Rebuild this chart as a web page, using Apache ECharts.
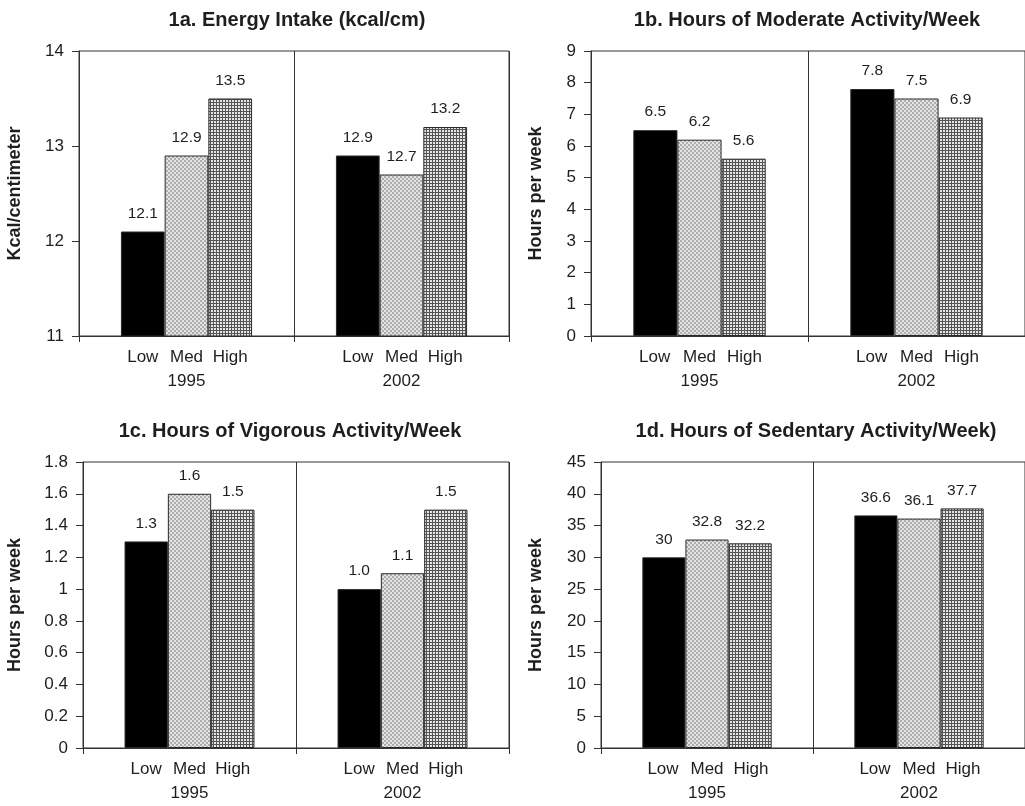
<!DOCTYPE html>
<html>
<head>
<meta charset="utf-8">
<script src="https://cdn.jsdelivr.net/npm/echarts@6/dist/echarts.min.js"></script>
<style>
html,body{margin:0;padding:0;background:#fff;}
#c{width:1025px;height:806px;}
</style>
</head>
<body>
<div id="c"></div>
<script>
// ---- data ----
const years = ['1995', '2002'];
const levels = ['Low', 'Med', 'High'];

const energyLow = [12.1, 12.9];
const energyMed = [12.9, 12.7];
const energyHigh = [13.5, 13.2];

const moderateLow = [6.5, 7.8];
const moderateMed = [6.2, 7.5];
const moderateHigh = [5.6, 6.9];

const vigorousLow = [1.3, 1.0];
const vigorousMed = [1.6, 1.1];
const vigorousHigh = [1.5, 1.5];

const sedentaryLow = [30, 36.6];
const sedentaryMed = [32.8, 36.1];
const sedentaryHigh = [32.2, 37.7];

const titles = [
  '1a. Energy Intake (kcal/cm)',
  '1b. Hours of Moderate Activity/Week',
  '1c. Hours of Vigorous Activity/Week',
  '1d. Hours of Sedentary Activity/Week)'
];
const yNames = ['Kcal/centimeter', 'Hours per week', 'Hours per week', 'Hours per week'];
const yMin = [11, 0, 0, 0];
const yMax = [14, 9, 1.8, 45];
const yStep = [1, 1, 0.2, 5];
const labelDecimals = [1, 1, 1, null];

// ---- styles / layout ----
const FONT = "'Liberation Sans', Arial, Helvetica, sans-serif";
const INK = '#1e1e1e';
const LINE = '#333';
const CAT_GAP = 0.39;

const grids = [
  {left: 79, top: 51, width: 430, height: 285, nameGap: 55, titleX: 297, titleY: 20},
  {left: 591, top: 51, width: 442, height: 285, nameGap: 46, titleX: 807, titleY: 20},
  {left: 83, top: 462, width: 426, height: 286, nameGap: 59, titleX: 290, titleY: 431},
  {left: 601, top: 462, width: 433, height: 286, nameGap: 56, titleX: 816, titleY: 431}
];

function makePattern(kind) {
  const cv = document.createElement('canvas');
  const ctx = cv.getContext('2d');
  if (kind === 'checker') {
    cv.width = 4; cv.height = 4;
    ctx.fillStyle = '#e4e4e4'; ctx.fillRect(0, 0, 4, 4);
    ctx.fillStyle = '#adadad';
    ctx.fillRect(0, 0, 2, 2); ctx.fillRect(2, 2, 2, 2);
  } else {
    cv.width = 3; cv.height = 3;
    ctx.fillStyle = '#e6e6e6'; ctx.fillRect(0, 0, 3, 3);
    ctx.fillStyle = '#555';
    ctx.fillRect(0, 0, 3, 1); ctx.fillRect(0, 0, 1, 3);
  }
  return {image: cv, repeat: 'repeat'};
}
const fills = ['#000', makePattern('checker'), makePattern('grid')];

const dataSets = [
  [energyLow, energyMed, energyHigh],
  [moderateLow, moderateMed, moderateHigh],
  [vigorousLow, vigorousMed, vigorousHigh],
  [sedentaryLow, sedentaryMed, sedentaryHigh]
];

const option = {
  backgroundColor: '#fff',
  animation: false,
  grid: [], xAxis: [], yAxis: [], series: [], graphic: []
};

grids.forEach((g, i) => {
  const bw = g.width / years.length * (1 - CAT_GAP) / levels.length;
  option.grid.push({
    left: g.left, top: g.top, width: g.width, height: g.height,
    show: true, borderColor: LINE, borderWidth: 1, containLabel: false
  });
  option.xAxis.push({
    type: 'category', gridIndex: i, data: years,
    axisLine: {show: true, lineStyle: {color: LINE, width: 1}},
    axisTick: {show: true, length: 6, lineStyle: {color: LINE}},
    splitLine: {show: true, lineStyle: {color: LINE, width: 1}},
    axisLabel: {
      interval: 0, margin: 10, color: INK, fontFamily: FONT, fontSize: 17,
      lineHeight: 23.5,
      formatter: function (v) {
        return levels.map(l => '{s|' + l + '}').join('') + '\n{y|' + v + '}';
      },
      rich: {
        s: {width: bw, align: 'center', fontSize: 17, fontFamily: FONT, color: INK, lineHeight: 23.5},
        y: {fontSize: 17, fontFamily: FONT, color: INK, lineHeight: 23.5}
      }
    }
  });
  option.yAxis.push({
    type: 'value', gridIndex: i,
    min: yMin[i], max: yMax[i], interval: yStep[i],
    name: yNames[i], nameLocation: 'middle', nameGap: g.nameGap, nameRotate: 90,
    nameTextStyle: {fontFamily: FONT, fontWeight: 'bold', fontSize: 18, color: INK},
    axisLine: {show: true, lineStyle: {color: LINE, width: 1}},
    axisTick: {show: true, inside: false, length: 7, lineStyle: {color: LINE}},
    splitLine: {show: false},
    axisLabel: {margin: 15, color: INK, fontFamily: FONT, fontSize: 17}
  });
  levels.forEach((lv, k) => {
    const dec = labelDecimals[i];
    option.series.push({
      type: 'bar', name: lv, xAxisIndex: i, yAxisIndex: i,
      data: dataSets[i][k],
      barGap: '0%', barCategoryGap: (CAT_GAP * 100) + '%',
      itemStyle: {color: fills[k], borderColor: '#2a2a2a', borderWidth: 1},
      label: {
        show: true, position: 'top', distance: 10,
        fontFamily: FONT, fontSize: 15.5, color: INK,
        formatter: p => dec == null ? String(p.value) : Number(p.value).toFixed(dec)
      },
      emphasis: {disabled: true}
    });
  });
  option.graphic.push({
    type: 'text', x: g.titleX, y: g.titleY,
    style: {
      text: titles[i], font: 'bold 20px ' + FONT, fill: INK,
      textAlign: 'center', textVerticalAlign: 'middle', align: 'center', verticalAlign: 'middle'
    }
  });
});

const chart = echarts.init(document.getElementById('c'), null, {renderer: 'canvas'});
chart.setOption(option);
</script>
</body>
</html>
